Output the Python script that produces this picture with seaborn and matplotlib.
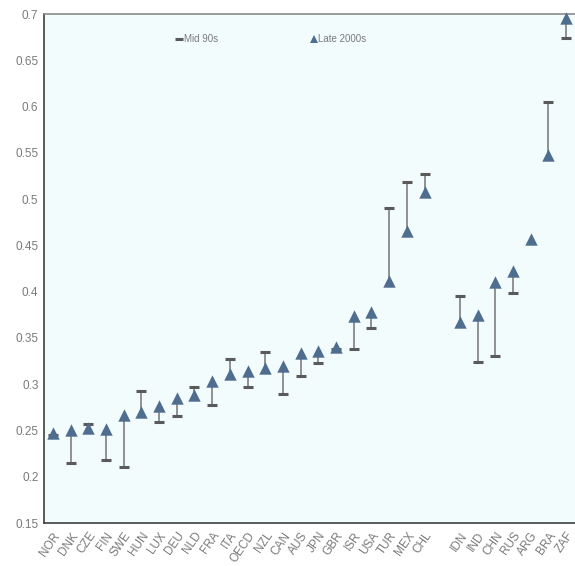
import numpy as np
import pandas as pd
import matplotlib
matplotlib.use("Agg")
import matplotlib.pyplot as plt
import seaborn as sns
from matplotlib.lines import Line2D

countries = ["NOR", "DNK", "CZE", "FIN", "SWE", "HUN", "LUX", "DEU", "NLD", "FRA",
             "ITA", "OECD", "NZL", "CAN", "AUS", "JPN", "GBR", "ISR", "USA", "TUR",
             "MEX", "CHL", "", "IDN", "IND", "CHN", "RUS", "ARG", "BRA", "ZAF"]
mid_90s = [0.245, 0.215, 0.257, 0.218, 0.211, 0.293, 0.259, 0.266, 0.297, 0.277,
           0.327, 0.297, 0.335, 0.289, 0.309, 0.323, 0.338, 0.338, 0.361, 0.490,
           0.519, 0.527, np.nan, 0.395, 0.324, 0.330, 0.399, np.nan, 0.605, 0.674]
late_2000s = [0.247, 0.250, 0.253, 0.252, 0.267, 0.270, 0.276, 0.285, 0.288, 0.303,
              0.311, 0.314, 0.317, 0.320, 0.334, 0.336, 0.340, 0.374, 0.378, 0.411,
              0.466, 0.508, np.nan, 0.367, 0.375, 0.410, 0.422, 0.457, 0.548, 0.696]
y_ticks = [0.15, 0.2, 0.25, 0.3, 0.35, 0.4, 0.45, 0.5, 0.55, 0.6, 0.65, 0.7]
y_tick_labels = ["0.15", "0.2", "0.25", "0.3", "0.35", "0.4", "0.45", "0.5", "0.55", "0.6", "0.65", "0.7"]
legend_labels = ["Mid 90s", "Late 2000s"]

df = pd.DataFrame({"country": countries, "mid": mid_90s, "late": late_2000s})
df["pos"] = np.arange(len(df))

sns.set_style("white")
plt.rcParams["font.family"] = ["Liberation Sans Narrow", "Liberation Sans", "DejaVu Sans"]

fig = plt.figure(figsize=(5.75, 5.66), dpi=100)
ax = fig.add_axes([44 / 575, 1 - 523 / 566, 1 - 44 / 575, (523 - 14) / 566])
ax.set_facecolor("#f3fcfd")

line_col = "#7f7f7f"
dash_col = "#5a5a5a"
tri_col = "#4f6d8f"

both = df.dropna(subset=["mid", "late"])
ax.vlines(both["pos"], both["mid"], both["late"], color=line_col, lw=1.2, zorder=2)
sns.scatterplot(data=df, x="pos", y="mid", marker="_", s=55, linewidth=2.2,
                color=dash_col, ax=ax, zorder=3, legend=False)
sns.scatterplot(data=df, x="pos", y="late", marker="^", s=80, linewidth=0,
                color=tri_col, ax=ax, zorder=4, legend=False, clip_on=False)

ax.set_xlim(-0.5, len(countries) - 0.5)
ax.set_ylim(0.15, 0.7)
ax.set_xlabel("")
ax.set_ylabel("")

ax.set_yticks(y_ticks)
ax.set_yticklabels(y_tick_labels, color="#7a7a7a", fontsize=8.5)
ax.set_xticks(df["pos"])
ax.set_xticklabels(countries, rotation=55, ha="right", va="top",
                   rotation_mode="anchor", color="#7a7a7a", fontsize=8.5)
ax.set_xticks(np.arange(len(countries) - 1) + 0.5, minor=True)
ax.tick_params(axis="x", which="major", length=0, pad=5)
ax.tick_params(axis="x", which="minor", direction="in", length=3, width=1, color="#404040")
ax.tick_params(axis="y", direction="in", length=3, width=1, color="#404040", pad=4)

for side in ["left", "bottom"]:
    ax.spines[side].set_color("#404040")
    ax.spines[side].set_linewidth(1.2)
ax.spines["top"].set_color("#8a8a8a")
ax.spines["top"].set_linewidth(1.2)
ax.spines["right"].set_visible(False)

handles = [Line2D([], [], marker="_", linestyle="none", color=dash_col, markersize=6, markeredgewidth=2.2),
           Line2D([], [], marker="^", linestyle="none", color=tri_col, markersize=5.5, markeredgewidth=0)]
leg = ax.legend(handles, legend_labels, ncol=2, frameon=False, loc="upper left",
                bbox_to_anchor=(0.23, 0.977), columnspacing=9.4, handletextpad=0.0,
                handlelength=0.9, fontsize=7)
for t in leg.get_texts():
    t.set_color("#7a7a7a")

fig.savefig("out.png", dpi=100, facecolor="white")
